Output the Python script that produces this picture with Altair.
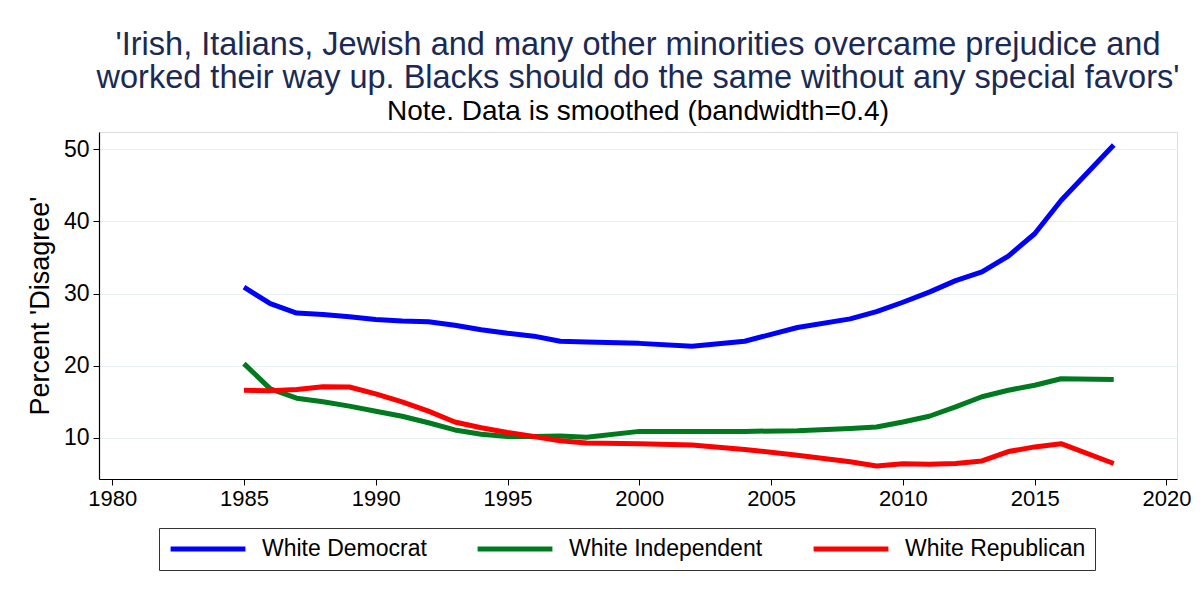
import altair as alt
import pandas as pd

years = [1985, 1986, 1987, 1988, 1989, 1990, 1991, 1992, 1993, 1994, 1995, 1996, 1997, 1998,
         2000, 2002, 2004, 2006, 2008, 2009, 2010, 2011, 2012, 2013, 2014, 2015, 2016, 2018]
democrat = [30.9, 28.6, 27.3, 27.1, 26.8, 26.4, 26.2, 26.1, 25.6, 25.0, 24.5, 24.1, 23.4, 23.3,
            23.1, 22.7, 23.4, 25.3, 26.5, 27.5, 28.8, 30.2, 31.8, 33.0, 35.2, 38.3, 42.9, 50.6]
independent = [20.3, 16.8, 15.5, 15.0, 14.4, 13.7, 13.0, 12.1, 11.1, 10.5, 10.2, 10.2, 10.25, 10.1,
               10.9, 10.9, 10.9, 11.0, 11.3, 11.5, 12.2, 13.0, 14.3, 15.7, 16.6, 17.3, 18.2, 18.1]
republican = [16.6, 16.55, 16.7, 17.1, 17.05, 16.1, 15.0, 13.7, 12.2, 11.4, 10.75, 10.2, 9.6, 9.3,
              9.2, 9.0, 8.4, 7.6, 6.7, 6.1, 6.4, 6.35, 6.45, 6.8, 8.1, 8.75, 9.2, 6.45]
series = ["White Democrat", "White Independent", "White Republican"]
colors = ["#0000ff", "#007a1e", "#ff0000"]

rows = []
for name, vals in zip(series, [democrat, independent, republican]):
    for yr, v in zip(years, vals):
        rows.append({"year": yr, "value": v, "group": name})
df = pd.DataFrame(rows)

FONT = "Liberation Sans"

chart = alt.Chart(df).mark_line(strokeWidth=5, strokeJoin="round").encode(
    x=alt.X("year:Q",
            scale=alt.Scale(domain=[1979.5, 2020.4], nice=False, zero=False),
            axis=alt.Axis(values=list(range(1980, 2021, 5)), title=None, format="d",
                          grid=False, labelFontSize=22, labelColor="#000000",
                          tickSize=6, tickColor="#000000", domainColor="#000000",
                          labelPadding=3, labelFont=FONT, domainWidth=1.2)),
    y=alt.Y("value:Q",
            scale=alt.Scale(domain=[4.3, 52.4], nice=False, zero=False),
            axis=alt.Axis(values=[10, 20, 30, 40, 50], title="Percent 'Disagree'",
                          titleFontSize=27, titleFontWeight="normal", titleFont=FONT,
                          titleColor="#000000", titlePadding=9,
                          labelFontSize=23, labelColor="#000000", labelFont=FONT,
                          tickSize=6, tickColor="#000000", domainColor="#000000",
                          labelPadding=4, gridColor="#e6eff1", gridWidth=1.2,
                          domainWidth=1.2)),
    color=alt.Color("group:N",
                    scale=alt.Scale(domain=series, range=colors),
                    legend=alt.Legend(title=None, orient="none", legendX=60, legendY=396,
                                      direction="horizontal", symbolType="stroke",
                                      symbolSize=5600, symbolStrokeWidth=5,
                                      clipHeight=24,
                                      labelFontSize=23, labelFont=FONT, labelColor="#000000",
                                      columnPadding=48, labelOffset=14,
                                      strokeColor="#333333", padding=9,
                                      fillColor="#ffffff", labelLimit=400)),
).properties(
    width=1078,
    height=347,
    title=alt.Title(
        text=["'Irish, Italians, Jewish and many other minorities overcame prejudice and",
              "worked their way up. Blacks should do the same without any special favors'"],
        subtitle="Note. Data is smoothed (bandwidth=0.4)",
        fontSize=32.5, font=FONT, fontWeight="normal", color="#1a2a55", lineHeight=33,
        subtitleFontSize=28, subtitleFont=FONT, subtitleColor="#000000",
        subtitlePadding=4, anchor="middle", offset=6),
    autosize=alt.AutoSizeParams(type="none"),
    padding={"left": 91, "top": 124, "right": 15, "bottom": 105},
).configure_view(
    stroke=None
).configure(background="#ffffff")

chart.save("out.html", embed_options={"renderer": "svg", "actions": False})
